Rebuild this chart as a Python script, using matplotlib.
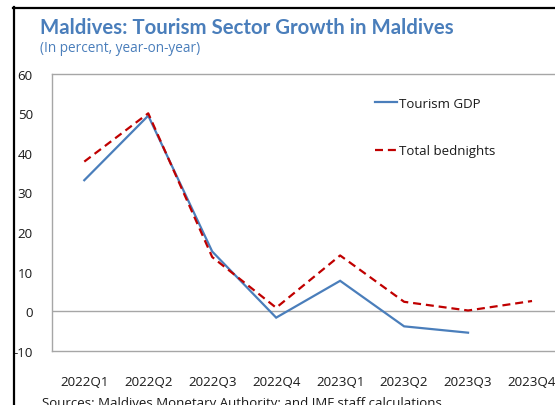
import matplotlib
matplotlib.use("Agg")
import matplotlib.pyplot as plt
from matplotlib.lines import Line2D

categories = ["2022Q1", "2022Q2", "2022Q3", "2022Q4", "2023Q1", "2023Q2", "2023Q3", "2023Q4"]
tourism_gdp = [33.1, 49.4, 15.1, -1.6, 7.7, -3.8, -5.4, None]
bednights = [37.8, 50.0, 13.7, 0.9, 14.1, 2.4, 0.2, 2.6]
yticks = [-10, 0, 10, 20, 30, 40, 50, 60]

W, H = 555, 406
fig = plt.figure(figsize=(W / 100, H / 100), dpi=100)
plt.rcParams['font.family'] = ['Open Sans', 'DejaVu Sans']

def fx(px):
    return px / W

def fy(py):
    return 1 - py / H

left, right = 52.3, 564.0
top, bottom = 74.7, 351.9
ax = fig.add_axes([fx(left), fy(bottom), (right - left) / W, (bottom - top) / H])

x = list(range(len(categories)))
gx = [i for i, v in zip(x, tourism_gdp) if v is not None]
gv = [v for v in tourism_gdp if v is not None]
blue = '#4A7EBB'
red = '#C00000'
ax.plot(gx, gv, color=blue, lw=1.6, label='Tourism GDP', solid_joinstyle='miter')
ax.plot(x, bednights, color=red, lw=1.6, dashes=(3.6, 2.2), label='Total bednights')

ax.set_xlim(-0.5, len(categories) - 0.5)
ax.set_ylim(-10, 60)
ax.set_yticks(yticks)
ax.set_yticklabels([str(t) for t in yticks])
ax.set_xticks(x)
ax.set_xticklabels(categories)
ax.axhline(0, color='#A6A6A6', lw=1.0, zorder=0)
for s in ['top', 'bottom', 'left', 'right']:
    ax.spines[s].set_color('#A6A6A6')
    ax.spines[s].set_linewidth(1.0)
ax.tick_params(axis='both', length=0, labelsize=9.6, colors='#1a1a1a')
ax.tick_params(axis='y', pad=14)
ax.tick_params(axis='x', pad=17)

leg = ax.legend(loc='upper left', bbox_to_anchor=(fx(375), fy(98)), bbox_transform=fig.transFigure,
                frameon=False, fontsize=9.5, handlelength=1.7, handletextpad=0.1,
                labelspacing=2.6, borderpad=0, borderaxespad=0)
for t in leg.get_texts():
    t.set_color('#1a1a1a')

fig.text(fx(40), fy(28), 'Maldives: Tourism Sector Growth in Maldives', color='#4A7EBB',
         fontsize=14.7, fontweight='bold', va='center', ha='left', family=['Lato', 'DejaVu Sans'])
fig.text(fx(40), fy(49), '(In percent, year-on-year)', color='#4A7EBB',
         fontsize=9.8, va='center', ha='left')
fig.text(fx(42.5), fy(404), 'Sources: Maldives Monetary Authority; and IMF staff calculations.',
         color='#1a1a1a', fontsize=9.5, va='center', ha='left')

fig.add_artist(Line2D([fx(13.5), fx(13.5)], [fy(8), fy(420)], color='black', lw=1.6, transform=fig.transFigure))
fig.add_artist(Line2D([fx(13), fx(560)], [fy(8.5), fy(8.5)], color='black', lw=1.6, transform=fig.transFigure))

fig.savefig('out.png', dpi=100)
